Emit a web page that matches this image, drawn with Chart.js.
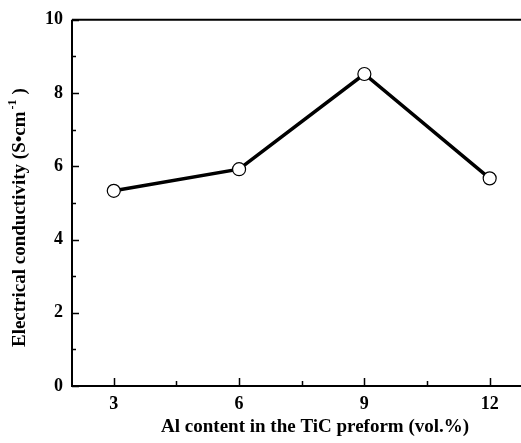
<!DOCTYPE html>
<html>
<head>
<meta charset="utf-8">
<script src="https://cdn.jsdelivr.net/npm/chart.js@4.4.1/dist/chart.umd.min.js"></script>
<style>
  html, body { margin: 0; padding: 0; background: #fff; }
  #wrap { width: 521px; height: 443px; }
</style>
</head>
<body>
<div id="wrap"><canvas id="chart" width="521" height="443"></canvas></div>
<script>
const al_content = [3, 6, 9, 12];
const conductivity = [5.33, 5.92, 8.52, 5.67];
const x_ticks = [3, 6, 9, 12];
const x_minor = [4.5, 7.5, 10.5];
const y_ticks = [0, 2, 4, 6, 8, 10];
const y_minor = [1, 3, 5, 7, 9];
const x_title = "Al content in the TiC preform (vol.%)";
const y_title = "Electrical conductivity (S\u2022cm";
const y_title_sup = "-1";

const font_family = "'Liberation Serif', 'Times New Roman', serif";

// ticks point inward and the frame has a top line but no right one
const frame_plugin = {
  id: "frame",
  afterDatasetsDraw(chart) {
    const ctx = chart.ctx;
    const area = chart.chartArea;
    const xs = chart.scales.x;
    const ys = chart.scales.y;
    ctx.save();
    ctx.strokeStyle = "#000";
    ctx.lineWidth = 2;
    ctx.beginPath();
    ctx.moveTo(area.left, area.top);
    ctx.lineTo(area.right, area.top);
    ctx.moveTo(area.left, area.top);
    ctx.lineTo(area.left, area.bottom);
    ctx.lineTo(area.right, area.bottom);
    ctx.stroke();

    ctx.lineWidth = 1.5;
    ctx.beginPath();
    y_ticks.forEach((v) => {
      const y = Math.round(ys.getPixelForValue(v)) + 0.5;
      ctx.moveTo(area.left, y);
      ctx.lineTo(area.left + 7, y);
    });
    y_minor.forEach((v) => {
      const y = Math.round(ys.getPixelForValue(v)) + 0.5;
      ctx.moveTo(area.left, y);
      ctx.lineTo(area.left + 4, y);
    });
    x_ticks.forEach((v) => {
      const x = Math.round(xs.getPixelForValue(v)) + 0.5;
      ctx.moveTo(x, area.bottom);
      ctx.lineTo(x, area.bottom - 8);
    });
    x_minor.forEach((v) => {
      const x = Math.round(xs.getPixelForValue(v)) + 0.5;
      ctx.moveTo(x, area.bottom);
      ctx.lineTo(x, area.bottom - 5);
    });
    ctx.stroke();

    // axis titles, placed a bit off-centre like the original figure
    ctx.fillStyle = "#000";
    ctx.textBaseline = "middle";
    ctx.font = "bold 19px " + font_family;
    ctx.textAlign = "center";
    ctx.fillText(x_title, xs.getPixelForValue(7.82), 427);

    ctx.save();
    ctx.translate(20, ys.getPixelForValue(4.6));
    ctx.rotate(-Math.PI / 2);
    ctx.textAlign = "left";
    const main_w = ctx.measureText(y_title).width;
    ctx.font = "bold 12px " + font_family;
    const sup_w = ctx.measureText(y_title_sup).width;
    ctx.font = "bold 19px " + font_family;
    const close_w = ctx.measureText(")").width;
    const total = main_w + 3 + sup_w + 4 + close_w;
    let x0 = -total / 2;
    ctx.fillText(y_title, x0, 0);
    ctx.font = "bold 12px " + font_family;
    ctx.fillText(y_title_sup, x0 + main_w + 2, -7);
    ctx.font = "bold 19px " + font_family;
    ctx.fillText(")", x0 + main_w + 3 + sup_w + 4, 0);
    ctx.restore();

    ctx.restore();
  },
};

new Chart(document.getElementById("chart"), {
  type: "line",
  data: {
    datasets: [
      {
        data: al_content.map((x, i) => ({ x: x, y: conductivity[i] })),
        borderColor: "#000",
        borderWidth: 3.5,
        pointRadius: 6.5,
        pointBorderWidth: 1.2,
        pointBackgroundColor: "#fff",
        pointBorderColor: "#000",
        tension: 0,
      },
    ],
  },
  plugins: [frame_plugin],
  options: {
    responsive: false,
    animation: false,
    layout: { autoPadding: false, padding: { top: 16, right: 0, left: 0, bottom: 0 } },
    plugins: { legend: { display: false }, tooltip: { enabled: false } },
    scales: {
      x: {
        type: "linear",
        min: 2,
        max: 12.75,
        grid: { display: false, drawTicks: false },
        border: { display: false },
        afterBuildTicks: (scale) => {
          scale.ticks = x_ticks.map((v) => ({ value: v }));
        },
        afterFit: (scale) => {
          scale.height = 57;
        },
        ticks: {
          color: "#000",
          padding: 8,
          maxRotation: 0,
          font: { family: font_family, size: 18, weight: "bold" },
        },
        title: { display: false },
      },
      y: {
        min: 0,
        max: 10,
        grid: { display: false, drawTicks: false },
        border: { display: false },
        afterBuildTicks: (scale) => {
          scale.ticks = y_ticks.map((v) => ({ value: v }));
        },
        afterFit: (scale) => {
          scale.width = 72;
        },
        ticks: {
          color: "#000",
          padding: 9,
          font: { family: font_family, size: 18, weight: "bold" },
        },
        title: { display: false },
      },
    },
  },
});
</script>
</body>
</html>
